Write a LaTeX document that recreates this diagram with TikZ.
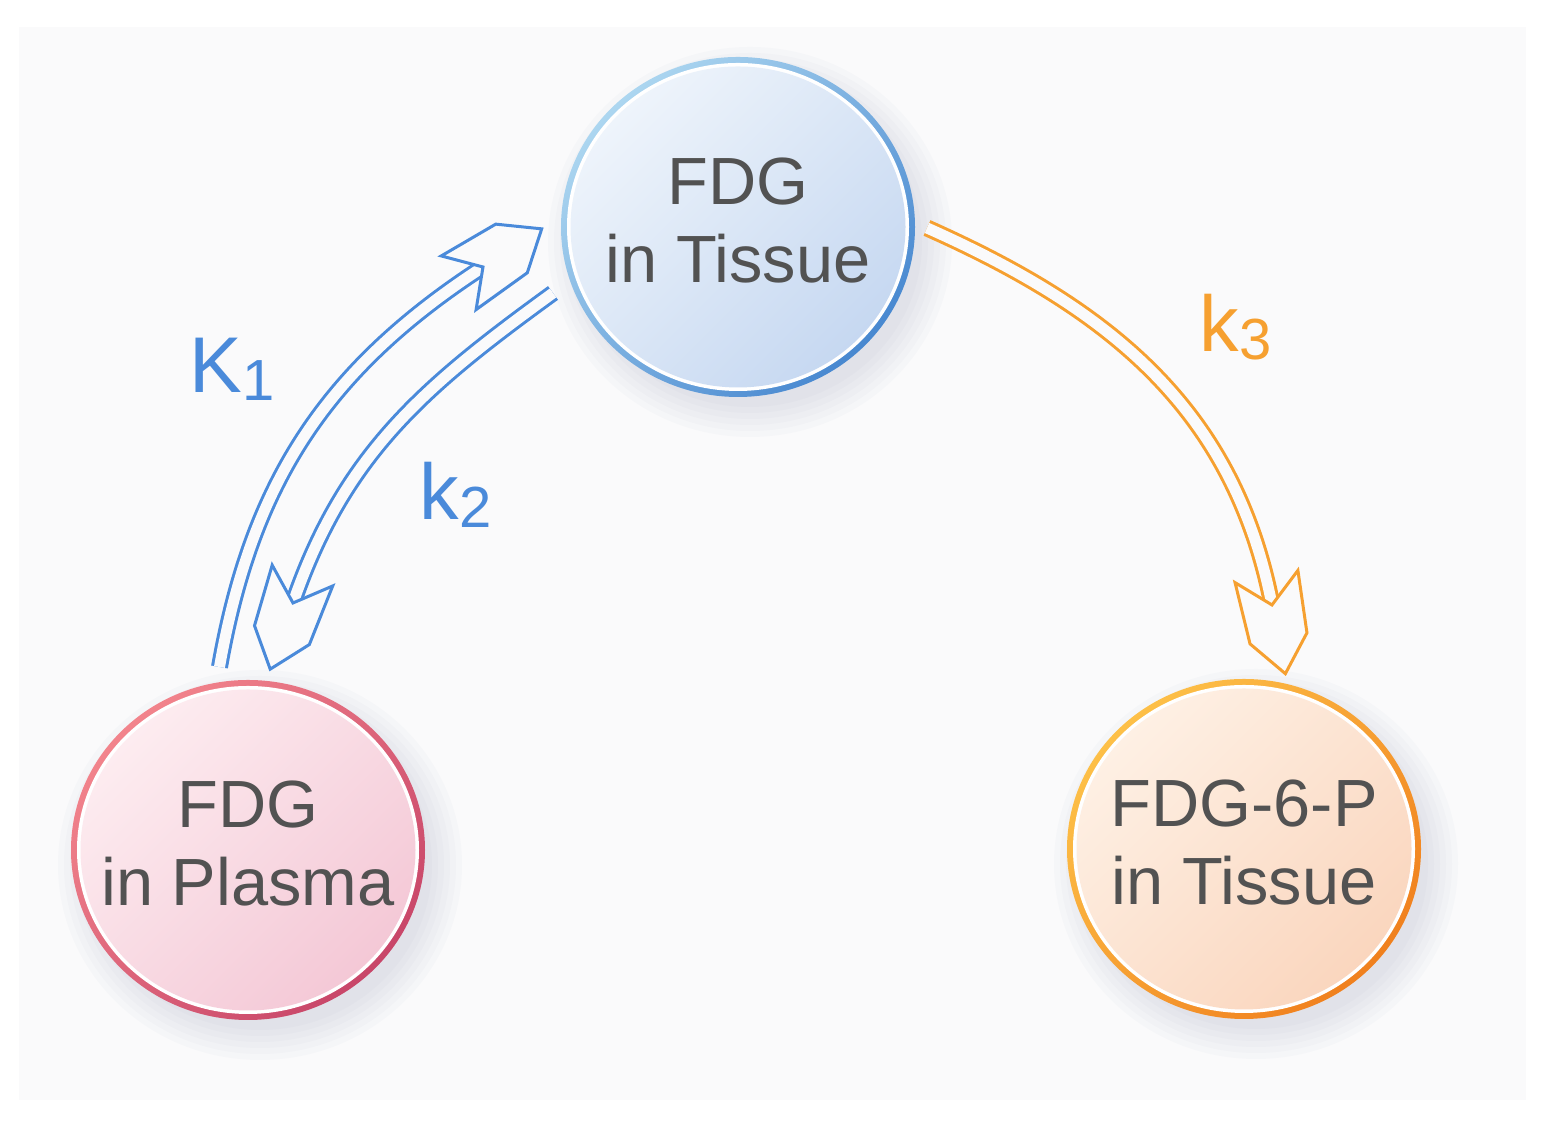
\documentclass[tikz,border=0pt]{standalone}
\usepackage{fontspec}
\setmainfont{Liberation Sans}
\usetikzlibrary{shapes.geometric, calc, decorations.markings, backgrounds}
\definecolor{panel}{RGB}{250, 250, 251}
\definecolor{shadowcol}{RGB}{120, 125, 170}
\definecolor{textgray}{RGB}{82, 82, 82}
\definecolor{bluecol}{RGB}{74, 138, 218}
\definecolor{orangecol}{RGB}{246, 160, 48}
\definecolor{tisring1}{RGB}{172, 214, 240}
\definecolor{tisring2}{RGB}{72, 136, 208}
\definecolor{tisfill1}{RGB}{238, 244, 251}
\definecolor{tisfill2}{RGB}{198, 216, 241}
\definecolor{plaring1}{RGB}{242, 132, 140}
\definecolor{plaring2}{RGB}{200, 70, 105}
\definecolor{plafill1}{RGB}{253, 236, 240}
\definecolor{plafill2}{RGB}{244, 200, 214}
\definecolor{phoring1}{RGB}{253, 192, 72}
\definecolor{phoring2}{RGB}{240, 128, 30}
\definecolor{phofill1}{RGB}{254, 240, 228}
\definecolor{phofill2}{RGB}{250, 214, 190}
\newcommand{\ratetext}[2]{#1\raisebox{-0.075cm}{\fontsize{16.5}{17}\selectfont #2}}

\begin{document}
\begin{tikzpicture}[
    pool/.style n args={4}{ellipse, minimum width=3.54cm, minimum height=3.40cm,
                  inner sep=-0.5cm, align=center, text=textgray, text depth=0.14cm,
                  font=\fontsize{19}{22.2}\selectfont,
                  top color=#1, bottom color=#2, shading angle=45,
                  path picture={
                    \fill[white] (path picture bounding box.center)
                      ellipse [x radius=1.71cm, y radius=1.64cm];
                    \shade[top color=#3, bottom color=#4, shading angle=45]
                      (path picture bounding box.center)
                      ellipse [x radius=1.675cm, y radius=1.605cm];}},
    flow/.style={line width=0.17cm, draw=#1,
                 postaction={draw=panel, line width=0.11cm},
                 postaction={decorate, decoration={markings,
                   mark=at position 1 with {
                   \draw[draw=#1, line width=0.03cm, fill=panel]
                     (-0.29,0.32) -- (0,0) -- (-0.29,-0.32) -- (0.34,-0.29)
                     -- (0.70,0) -- (0.34,0.29) -- cycle;}}}},
    ratelabel/.style={anchor=base west, inner sep=0pt, text=#1,
                      font=\fontsize{22.5}{24}\selectfont},
]
  \node[pool={tisring1}{tisring2}{tisfill1}{tisfill2}] (tissue) at (7.38,9.00) {FDG\\in Tissue};
  \node[pool={plaring1}{plaring2}{plafill1}{plafill2}] (plasma) at (2.48,2.77) {FDG\\in Plasma};
  \node[pool={phoring1}{phoring2}{phofill1}{phofill2}] (fdgp)   at (12.44,2.78) {FDG-6-P\\in Tissue};

  % panel and soft shadows
  \begin{scope}[on background layer]
    \fill[white] (0,0) rectangle (15.53,11.27);
    \fill[panel] (0.19,0.27) rectangle (15.26,11.00);
    \foreach \n in {tissue, plasma, fdgp}
      \foreach \r in {0.32,0.26,...,0.0}
        \fill[shadowcol, opacity=0.03] ([shift={(0.12,-0.15)}]\n.center)
          ellipse [x radius={1.70cm+\r cm}, y radius={1.63cm+\r cm}];
  \end{scope}

  \draw[flow=bluecol] ([shift={(-0.285,1.83)}]plasma.center)
    to[out=80, in=213] ([shift={(-2.55,-0.40)}]tissue.center);
  \draw[flow=bluecol] ([shift={(-1.85,-0.66)}]tissue.center)
    to[out=216, in=71] ([shift={(0.45,2.47)}]plasma.center);
  \draw[flow=orangecol] ([shift={(1.89,-0.01)}]tissue.center)
    to[out=-24, in=101] ([shift={(0.28,2.44)}]fdgp.center);

  \node[ratelabel=bluecol]   (kone)   at (1.89,7.34)  {\ratetext{K}{1}};
  \node[ratelabel=bluecol]   (ktwo)   at (4.19,6.07)  {\ratetext{k}{2}};
  \node[ratelabel=orangecol] (kthree) at (11.99,7.75) {\ratetext{k}{3}};
\end{tikzpicture}
\end{document}
